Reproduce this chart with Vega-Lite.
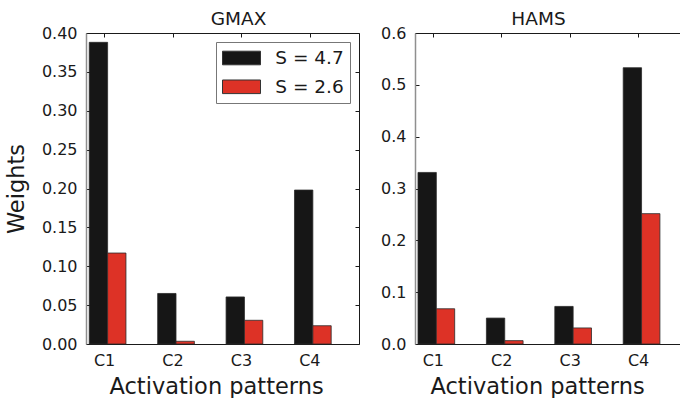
{
  "$schema": "https://vega.github.io/schema/vega-lite/v6.json",
  "padding": {"left": 5, "top": 9, "right": 0, "bottom": 0},
  "config": {
    "font": "DejaVu Sans",
    "view": {"stroke": null},
    "axis": {"grid": false, "labelColor": "#1a1a1a", "titleColor": "#1a1a1a", "tickColor": "#1a1a1a", "domainColor": "#1a1a1a", "titleFontWeight": "normal", "labelFontSize": 16},
    "title": {"fontWeight": "normal", "fontSize": 18.5, "color": "#1a1a1a"}
  },
  "datasets": {
    "gmax": [
      {"pattern": "C1", "S": "S = 4.7", "weight": 0.388},
      {"pattern": "C1", "S": "S = 2.6", "weight": 0.117},
      {"pattern": "C2", "S": "S = 4.7", "weight": 0.065},
      {"pattern": "C2", "S": "S = 2.6", "weight": 0.0035},
      {"pattern": "C3", "S": "S = 4.7", "weight": 0.0605},
      {"pattern": "C3", "S": "S = 2.6", "weight": 0.0305},
      {"pattern": "C4", "S": "S = 4.7", "weight": 0.198},
      {"pattern": "C4", "S": "S = 2.6", "weight": 0.0235}
    ],
    "hams": [
      {"pattern": "C1", "S": "S = 4.7", "weight": 0.331},
      {"pattern": "C1", "S": "S = 2.6", "weight": 0.068},
      {"pattern": "C2", "S": "S = 4.7", "weight": 0.05},
      {"pattern": "C2", "S": "S = 2.6", "weight": 0.0065},
      {"pattern": "C3", "S": "S = 4.7", "weight": 0.0725},
      {"pattern": "C3", "S": "S = 2.6", "weight": 0.031},
      {"pattern": "C4", "S": "S = 4.7", "weight": 0.533},
      {"pattern": "C4", "S": "S = 2.6", "weight": 0.2515}
    ]
  },
  "spacing": 20,
  "resolve": {"scale": {"x": "independent", "y": "independent", "color": "independent", "xOffset": "independent"}, "legend": {"color": "independent"}},
  "hconcat": [
    {
      "width": 273,
      "height": 311,
      "title": {"text": "GMAX", "anchor": "middle", "dx": 16, "baseline": "alphabetic", "offset": -18.3},
      "data": {"name": "gmax"},
      "layer": [
        {
          "mark": {"type": "bar", "stroke": "#2b2b2b", "strokeWidth": 0.8},
          "encoding": {
            "x": {"field": "pattern", "type": "nominal", "sort": ["C1", "C2", "C3", "C4"],
              "scale": {"paddingInner": 0.4635, "paddingOuter": 0.227, "align": 0.105},
              "axis": {"orient": "bottom", "title": "Activation patterns", "titleFontSize": 22.5, "titleAnchor": "start", "titleX": 23, "titlePadding": 7, "labelAngle": 0, "ticks": false, "labelPadding": 8, "labelOffset": -3}},
            "xOffset": {"field": "S", "type": "nominal", "sort": ["S = 4.7", "S = 2.6"], "scale": {"paddingInner": 0, "paddingOuter": 0}},
            "y": {"field": "weight", "type": "quantitative", "stack": null, "scale": {"domain": [0, 0.4], "nice": false},
              "axis": {"orient": "left", "title": "Weights", "titleFontSize": 22.5, "titlePadding": 13, "values": [0, 0.05, 0.1, 0.15, 0.2, 0.25, 0.3, 0.35, 0.4], "format": ".2f", "tickSize": -4, "labelPadding": 13, "domainColor": "#8f8f8f", "domainWidth": 1.5}},
            "color": {"field": "S", "type": "nominal", "sort": ["S = 4.7", "S = 2.6"],
              "scale": {"domain": ["S = 4.7", "S = 2.6"], "range": ["#161616", "#dd3226"]},
              "legend": {"orient": "top-right", "offset": 9, "title": null, "padding": 6, "strokeColor": "#777777", "fillColor": "white", "symbolType": "M-1,-0.716H3V0.716H-1Z", "symbolSize": 361, "symbolStrokeColor": "#333333", "symbolStrokeWidth": 1, "symbolOpacity": 1, "labelFontSize": 18.5, "labelOffset": 33.3, "labelColor": "#1a1a1a", "rowPadding": 8.8}}
          }
        },
        {
          "mark": {"type": "bar", "opacity": 0, "clip": true},
          "encoding": {
            "x": {"field": "pattern", "type": "nominal", "sort": ["C1", "C2", "C3", "C4"],
              "axis": {"orient": "top", "labels": false, "title": null, "tickSize": -4, "tickOffset": -3.3}},
            "y": {"field": "weight", "type": "quantitative", "stack": null,
              "axis": {"orient": "right", "labels": false, "title": null, "values": [0, 0.05, 0.1, 0.15, 0.2, 0.25, 0.3, 0.35, 0.4], "tickSize": -4}}
          }
        }
      ],
      "resolve": {"axis": {"x": "independent", "y": "independent"}}
    },
    {
      "width": 266,
      "height": 311,
      "title": {"text": "HAMS", "anchor": "middle", "dx": -9.5, "baseline": "alphabetic", "offset": -18.3},
      "data": {"name": "hams"},
      "layer": [
        {
          "mark": {"type": "bar", "stroke": "#2b2b2b", "strokeWidth": 0.8},
          "encoding": {
            "x": {"field": "pattern", "type": "nominal", "sort": ["C1", "C2", "C3", "C4"],
              "scale": {"paddingInner": 0.4635, "paddingOuter": 0.176, "align": 0.124},
              "axis": {"orient": "bottom", "title": "Activation patterns", "titleFontSize": 22.5, "titleAnchor": "start", "titleX": 15, "titlePadding": 7, "labelAngle": 0, "ticks": false, "labelPadding": 8, "labelOffset": -3}},
            "xOffset": {"field": "S", "type": "nominal", "sort": ["S = 4.7", "S = 2.6"], "scale": {"paddingInner": 0, "paddingOuter": 0}},
            "y": {"field": "weight", "type": "quantitative", "stack": null, "scale": {"domain": [0, 0.6], "nice": false},
              "axis": {"orient": "left", "title": null, "values": [0, 0.1, 0.2, 0.3, 0.4, 0.5, 0.6], "format": ".1f", "tickSize": -4, "labelPadding": 13, "domainColor": "#8f8f8f", "domainWidth": 1.5}},
            "color": {"field": "S", "type": "nominal", "sort": ["S = 4.7", "S = 2.6"],
              "scale": {"domain": ["S = 4.7", "S = 2.6"], "range": ["#161616", "#dd3226"]},
              "legend": null}
          }
        },
        {
          "mark": {"type": "bar", "opacity": 0, "clip": true},
          "encoding": {
            "x": {"field": "pattern", "type": "nominal", "sort": ["C1", "C2", "C3", "C4"],
              "axis": {"orient": "top", "labels": false, "title": null, "tickSize": -4, "tickOffset": -3.3}},
            "y": {"field": "weight", "type": "quantitative", "stack": null, "axis": null}
          }
        }
      ],
      "resolve": {"axis": {"x": "independent", "y": "independent"}}
    }
  ]
}
